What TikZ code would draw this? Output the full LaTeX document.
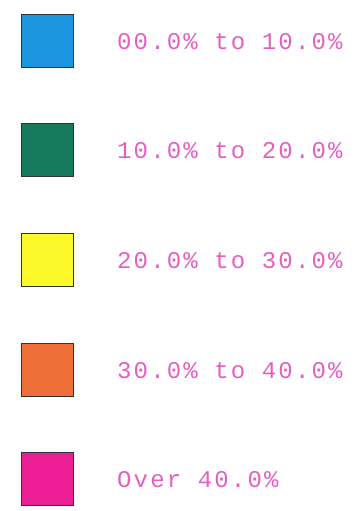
\documentclass[tikz,border=0pt]{standalone}
\usepackage{fontspec}
\newfontfamily\legendfont[LetterSpace=9]{Liberation Mono}
\usepackage{xcolor}
\usetikzlibrary{positioning}
\definecolor{pct0}{RGB}{28,150,222}
\definecolor{pct1}{RGB}{22,122,92}
\definecolor{pct2}{RGB}{250,248,40}
\definecolor{pct3}{RGB}{238,112,56}
\definecolor{pct4}{RGB}{238,30,150}
\definecolor{labpink}{RGB}{228,96,192}

\begin{document}
\begin{tikzpicture}[x=1pt,y=-1pt,
      swatch/.style={draw=black!80,line width=0.8pt,minimum width=52pt,minimum height=53pt,inner sep=0pt},
      lab/.style={anchor=west,text=labpink,font=\legendfont\fontsize{24}{24}\selectfont,inner sep=0pt}]
    \useasboundingbox (0,0) rectangle (361,511);
    \foreach \i/\c/\y/\txt in {0/pct0/41/00.0\% to 10.0\%,1/pct1/150/10.0\% to 20.0\%,2/pct2/260/20.0\% to 30.0\%,3/pct3/369.5/30.0\% to 40.0\%,4/pct4/478.5/Over 40.0\%} {
      \node[swatch,fill=\c] (sq\i) at (47,\y) {};
      \node[lab] (lb\i) at (117,\y+1) {\txt};
    }
  \end{tikzpicture}
\end{document}
